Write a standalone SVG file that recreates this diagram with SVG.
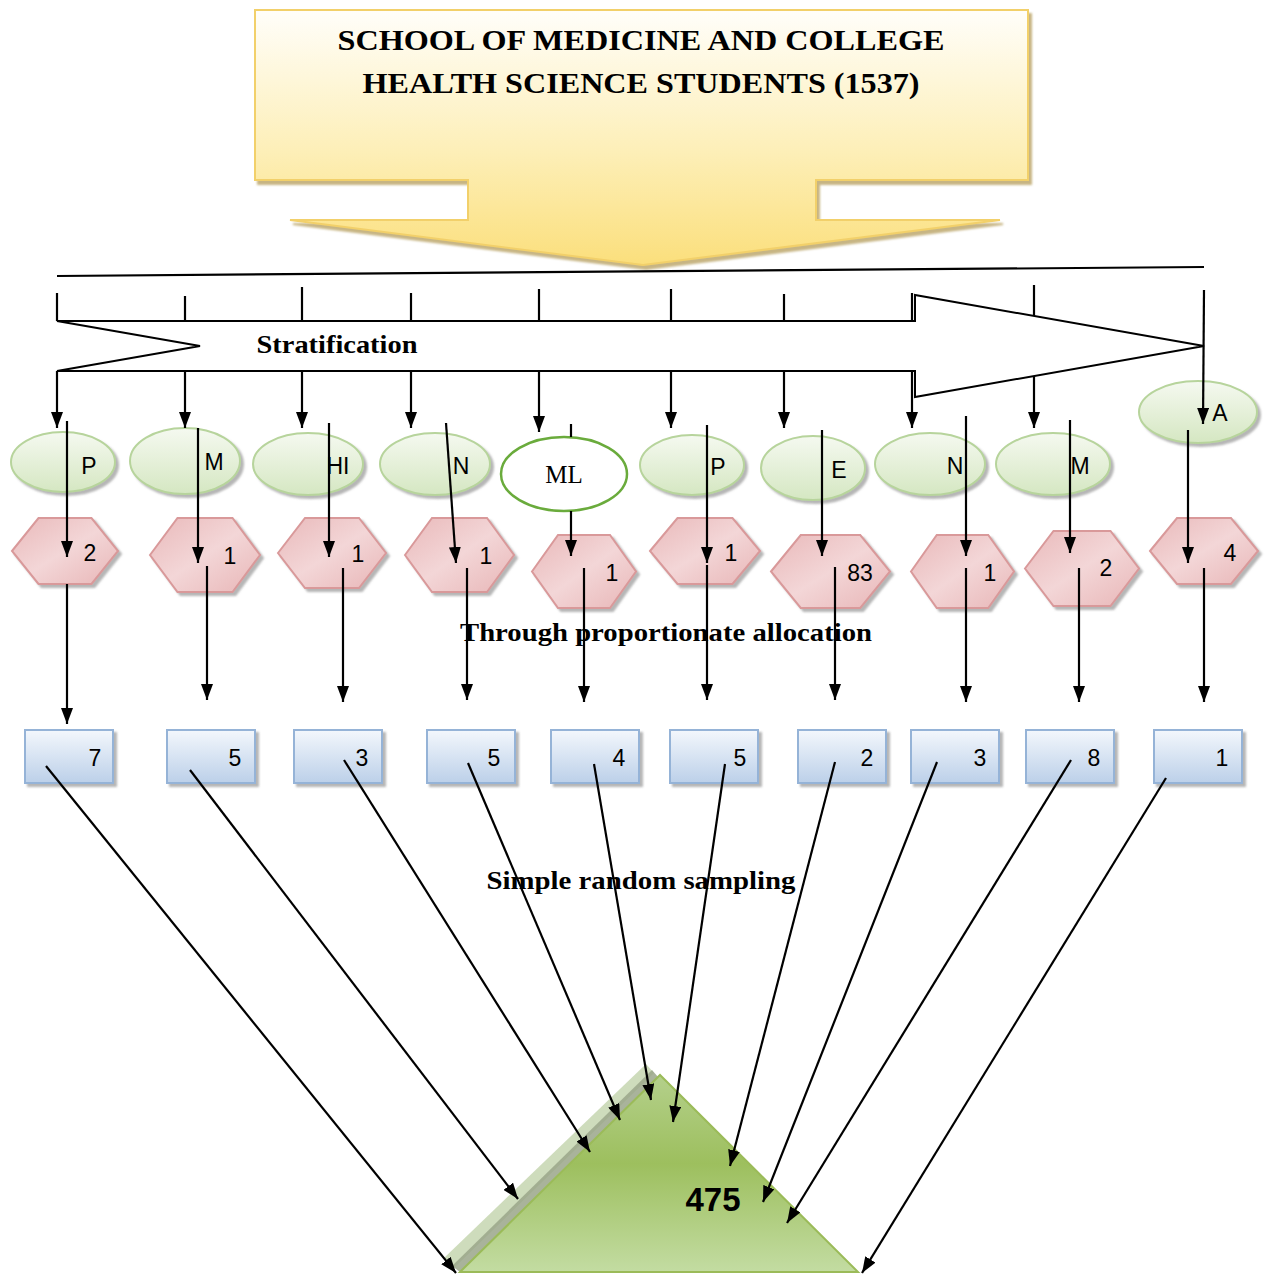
<svg xmlns="http://www.w3.org/2000/svg" width="1266" height="1275" viewBox="0 0 1266 1275">
<style>
.serif{font-family:"Liberation Serif","Times New Roman",serif;font-weight:bold;fill:#000}
.sans{font-family:"Liberation Sans",Arial,sans-serif;fill:#000;font-size:23px;text-anchor:middle}
.ell{fill:url(#gEll);stroke:#b7d49c;stroke-width:2;filter:url(#sh)}
.hex{fill:url(#gHex);stroke:#d9999a;stroke-width:2;filter:url(#sh)}
.box{fill:url(#gBox);stroke:#95b3d7;stroke-width:2;filter:url(#sh)}
.ln{stroke:#000;stroke-width:2.2;fill:none}
.arr{stroke:#000;stroke-width:2.2;fill:none;marker-end:url(#ah)}
</style>
<defs>
<marker id="ah" viewBox="0 0 16 12" refX="16" refY="6" markerWidth="16" markerHeight="12" markerUnits="userSpaceOnUse" orient="auto">
<path d="M0,0 L16,6 L0,12 z" fill="#000"/>
</marker>
<filter id="sh" x="-10%" y="-10%" width="130%" height="140%">
<feDropShadow dx="3" dy="3" stdDeviation="1" flood-color="#7a7a7a" flood-opacity="0.55"/>
</filter>
<filter id="shY" x="-5%" y="-5%" width="115%" height="120%">
<feDropShadow dx="3" dy="4" stdDeviation="1" flood-color="#b9a265" flood-opacity="0.8"/>
</filter>
<linearGradient id="gCall" gradientUnits="userSpaceOnUse" x1="0" y1="10" x2="0" y2="265">
<stop offset="0" stop-color="#fffefa"/>
<stop offset="0.55" stop-color="#fdefb8"/>
<stop offset="1" stop-color="#fbdf7c"/>
</linearGradient>
<linearGradient id="gEll" x1="0" y1="0" x2="0" y2="1">
<stop offset="0" stop-color="#f5f9f0"/>
<stop offset="1" stop-color="#d5e7c2"/>
</linearGradient>
<linearGradient id="gHex" x1="0" y1="0" x2="1" y2="1">
<stop offset="0" stop-color="#e9b9ba"/>
<stop offset="0.5" stop-color="#f3d6d7"/>
<stop offset="1" stop-color="#e8b6b7"/>
</linearGradient>
<linearGradient id="gBox" x1="0" y1="0" x2="0" y2="1">
<stop offset="0" stop-color="#f3f7fc"/>
<stop offset="1" stop-color="#bcd0e9"/>
</linearGradient>
<linearGradient id="gTri" gradientUnits="userSpaceOnUse" x1="0" y1="1075" x2="0" y2="1272">
<stop offset="0" stop-color="#b4d08b"/>
<stop offset="0.45" stop-color="#9dbf5e"/>
<stop offset="1" stop-color="#c3dca2"/>
</linearGradient>
</defs>
<rect width="1266" height="1275" fill="#fff"/>

<g id="population">
<path d="M255,10 H1028 V180 H816 V220 H1000 L643,265 L290,220 H468 V180 H255 Z" fill="url(#gCall)" stroke="#f2d06a" stroke-width="2" filter="url(#shY)"/>
<text class="serif" x="641" y="50" font-size="30" text-anchor="middle" textLength="607" lengthAdjust="spacingAndGlyphs">SCHOOL OF MEDICINE AND COLLEGE</text>
<text class="serif" x="641" y="93" font-size="30" text-anchor="middle" textLength="557" lengthAdjust="spacingAndGlyphs">HEALTH SCIENCE STUDENTS (1537)</text>
</g>

<g id="stratification">
<path d="M57,321 H915 V295 L1204,346 L915,397 V371 H57 L200,346 Z" fill="#fff" stroke="#000" stroke-width="2"/>
<text class="serif" x="337" y="353" font-size="26" text-anchor="middle" textLength="161" lengthAdjust="spacingAndGlyphs">Stratification</text>
</g>

<g id="strata">
<g id="s1"><ellipse class="ell" cx="63" cy="462" rx="52" ry="30"/><text class="sans" x="89" y="474">P</text></g>
<g id="s2"><ellipse class="ell" cx="185" cy="461" rx="55" ry="33"/><text class="sans" x="214" y="470">M</text></g>
<g id="s3"><ellipse class="ell" cx="308" cy="464" rx="55" ry="31"/><text class="sans" x="338" y="474">HI</text></g>
<g id="s4"><ellipse class="ell" cx="435" cy="464" rx="55" ry="31"/><text class="sans" x="461" y="474">N</text></g>
<g id="s5"><ellipse cx="564" cy="474" rx="63" ry="37" fill="#fff" stroke="#6aab3c" stroke-width="2.5"/><text x="564" y="483" font-family="Liberation Serif,serif" font-size="25" text-anchor="middle">ML</text></g>
<g id="s6"><ellipse class="ell" cx="692" cy="465" rx="52" ry="30"/><text class="sans" x="718" y="475">P</text></g>
<g id="s7"><ellipse class="ell" cx="813" cy="468" rx="52" ry="32"/><text class="sans" x="839" y="478">E</text></g>
<g id="s8"><ellipse class="ell" cx="930" cy="464" rx="55" ry="31"/><text class="sans" x="955" y="474">N</text></g>
<g id="s9"><ellipse class="ell" cx="1053" cy="464" rx="57" ry="31"/><text class="sans" x="1080" y="474">M</text></g>
<g id="s10"><ellipse class="ell" cx="1198" cy="412" rx="59" ry="31"/><text class="sans" x="1220" y="421">A</text></g>
</g>

<g id="allocations">
<g id="h1"><polygon class="hex" points="12,551 38.5,518 91.5,518 118,551 91.5,584 38.5,584"/><text class="sans" x="90" y="561">2</text></g>
<g id="h2"><polygon class="hex" points="150,555 177.5,518 232.5,518 260,555 232.5,592 177.5,592"/><text class="sans" x="230" y="564">1</text></g>
<g id="h3"><polygon class="hex" points="278,553 305,518 359,518 386,553 359,588 305,588"/><text class="sans" x="358" y="562">1</text></g>
<g id="h4"><polygon class="hex" points="405,555 432,518 487,518 514,555 487,592 432,592"/><text class="sans" x="486" y="564">1</text></g>
<g id="h5"><polygon class="hex" points="532,571.5 558,535 610,535 636,571.5 610,608 558,608"/><text class="sans" x="612" y="581">1</text></g>
<g id="h6"><polygon class="hex" points="650,551 677.5,518 732.5,518 760,551 732.5,584 677.5,584"/><text class="sans" x="731" y="561">1</text></g>
<g id="h7"><polygon class="hex" points="771,571.5 800.75,535 860.25,535 890,571.5 860.25,608 800.75,608"/><text class="sans" x="860" y="581">83</text></g>
<g id="h8"><polygon class="hex" points="911,571.5 936.75,535 988.25,535 1014,571.5 988.25,608 936.75,608"/><text class="sans" x="990" y="581">1</text></g>
<g id="h9"><polygon class="hex" points="1025,568.5 1053.5,531 1110.5,531 1139,568.5 1110.5,606 1053.5,606"/><text class="sans" x="1106" y="576">2</text></g>
<g id="h10"><polygon class="hex" points="1150,551 1177,518 1231,518 1258,551 1231,584 1177,584"/><text class="sans" x="1230" y="561">4</text></g>
</g>

<text class="serif" x="666" y="641" font-size="26" text-anchor="middle" textLength="412" lengthAdjust="spacingAndGlyphs">Through proportionate allocation</text>

<g id="samples">
<g id="b1"><rect class="box" x="25" y="730" width="88" height="53"/><text class="sans" x="95" y="766">7</text></g>
<g id="b2"><rect class="box" x="167" y="730" width="88" height="53"/><text class="sans" x="235" y="766">5</text></g>
<g id="b3"><rect class="box" x="294" y="730" width="88" height="53"/><text class="sans" x="362" y="766">3</text></g>
<g id="b4"><rect class="box" x="427" y="730" width="88" height="53"/><text class="sans" x="494" y="766">5</text></g>
<g id="b5"><rect class="box" x="551" y="730" width="88" height="53"/><text class="sans" x="619" y="766">4</text></g>
<g id="b6"><rect class="box" x="670" y="730" width="88" height="53"/><text class="sans" x="740" y="766">5</text></g>
<g id="b7"><rect class="box" x="798" y="730" width="88" height="53"/><text class="sans" x="867" y="766">2</text></g>
<g id="b8"><rect class="box" x="911" y="730" width="88" height="53"/><text class="sans" x="980" y="766">3</text></g>
<g id="b9"><rect class="box" x="1026" y="730" width="88" height="53"/><text class="sans" x="1094" y="766">8</text></g>
<g id="b10"><rect class="box" x="1154" y="730" width="88" height="53"/><text class="sans" x="1222" y="766">1</text></g>
</g>

<text class="serif" x="641" y="889" font-size="26" text-anchor="middle" textLength="309" lengthAdjust="spacingAndGlyphs">Simple random sampling</text>

<g id="total">
<path d="M444,1258 L646,1064 L654,1073 L454,1268 Z" fill="#c9d8b5" opacity="0.9"/>
<path d="M452,1266 L652,1070 L658,1077 L460,1272 Z" fill="#9aa68a" opacity="0.85"/>
<path d="M460,1272 L660,1075 L858,1272 Z" fill="url(#gTri)" stroke="#9bbb59" stroke-width="2"/>
<text x="713" y="1211" font-family="Liberation Sans,Arial,sans-serif" font-weight="bold" font-size="33" text-anchor="middle">475</text>
</g>

<g id="connectors">
<line class="ln" x1="57" y1="276" x2="1204" y2="267"/>
<line class="ln" x1="57" y1="293" x2="57" y2="321"/>
<line class="ln" x1="185" y1="296" x2="185" y2="321"/>
<line class="ln" x1="302" y1="287" x2="302" y2="321"/>
<line class="ln" x1="411" y1="293" x2="411" y2="321"/>
<line class="ln" x1="539" y1="289" x2="539" y2="321"/>
<line class="ln" x1="671" y1="289" x2="671" y2="321"/>
<line class="ln" x1="784" y1="294" x2="784" y2="321"/>
<line class="ln" x1="912" y1="293" x2="912" y2="321"/>
<line class="ln" x1="1034" y1="285" x2="1034" y2="316"/>
<line class="arr" x1="57" y1="371" x2="57" y2="428"/>
<line class="arr" x1="185" y1="371" x2="185" y2="428"/>
<line class="arr" x1="302" y1="371" x2="302" y2="428"/>
<line class="arr" x1="411" y1="371" x2="411" y2="428"/>
<line class="arr" x1="539" y1="371" x2="539" y2="432"/>
<line class="arr" x1="671" y1="371" x2="671" y2="428"/>
<line class="arr" x1="784" y1="371" x2="784" y2="428"/>
<line class="arr" x1="912" y1="371" x2="912" y2="428"/>
<line class="arr" x1="1034" y1="376" x2="1034" y2="428"/>
<line class="arr" x1="1204" y1="290" x2="1203" y2="424"/>
<line class="arr" x1="67" y1="421" x2="67" y2="557"/>
<line class="arr" x1="198" y1="428" x2="198" y2="563"/>
<line class="arr" x1="329" y1="423" x2="329" y2="557"/>
<line class="arr" x1="446" y1="423" x2="456" y2="563"/>
<line class="ln" x1="571" y1="424" x2="571" y2="437"/>
<line class="arr" x1="571" y1="511" x2="571" y2="556"/>
<line class="arr" x1="707" y1="425" x2="707" y2="563"/>
<line class="arr" x1="822" y1="430" x2="822" y2="556"/>
<line class="arr" x1="966" y1="416" x2="966" y2="556"/>
<line class="arr" x1="1070" y1="420" x2="1070" y2="553"/>
<line class="arr" x1="1188" y1="430" x2="1188" y2="563"/>
<line class="arr" x1="67" y1="584" x2="67" y2="724"/>
<line class="arr" x1="207" y1="566" x2="207" y2="700"/>
<line class="arr" x1="343" y1="568" x2="343" y2="702"/>
<line class="arr" x1="467" y1="568" x2="467" y2="700"/>
<line class="arr" x1="584" y1="568" x2="584" y2="702"/>
<line class="arr" x1="707" y1="565" x2="707" y2="700"/>
<line class="arr" x1="835" y1="567" x2="835" y2="700"/>
<line class="arr" x1="966" y1="568" x2="966" y2="702"/>
<line class="arr" x1="1079" y1="568" x2="1079" y2="702"/>
<line class="arr" x1="1204" y1="568" x2="1204" y2="702"/>
<line class="arr" x1="46" y1="766" x2="456" y2="1273"/>
<line class="arr" x1="190" y1="770" x2="518" y2="1199"/>
<line class="arr" x1="344" y1="760" x2="590" y2="1152"/>
<line class="arr" x1="468" y1="763" x2="620" y2="1120"/>
<line class="arr" x1="594" y1="764" x2="651" y2="1100"/>
<line class="arr" x1="725" y1="764" x2="673" y2="1122"/>
<line class="arr" x1="835" y1="762" x2="730" y2="1166"/>
<line class="arr" x1="937" y1="762" x2="763" y2="1202"/>
<line class="arr" x1="1071" y1="760" x2="787" y2="1223"/>
<line class="arr" x1="1166" y1="778" x2="862" y2="1273"/>
</g>
</svg>
